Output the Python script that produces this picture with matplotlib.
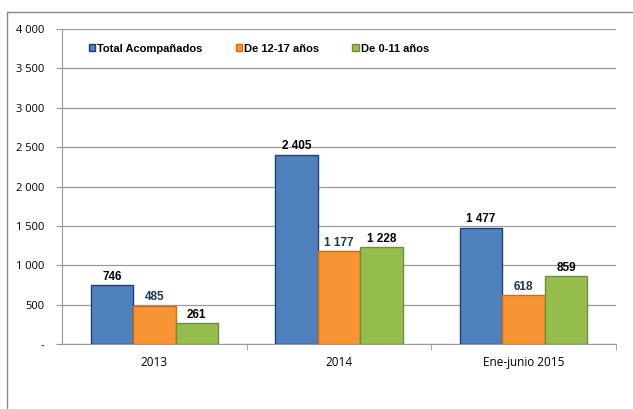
import matplotlib.pyplot as plt
import numpy as np
from matplotlib.patches import Rectangle
from matplotlib.ticker import FuncFormatter

categories = ["2013", "2014", "Ene-junio 2015"]
series_names = ["Total Acompañados", "De 12-17 años", "De 0-11 años"]
total = [746, 2405, 1477]
age_12_17 = [485, 1177, 618]
age_0_11 = [261, 1228, 859]

colors = ["#4F81BD", "#F79433", "#95BE4E"]
edges = ["#203F7A", "#D46A10", "#6E8F35"]
label_colors = ["black", "#1F3552", "black"]


def fmt(v, pos=None):
    if v == 0:
        return "-"
    return f"{int(v):,}".replace(",", " ")


fig = plt.figure(figsize=(6.33, 4.09), dpi=100)
ax = fig.add_axes([0.098, 0.159, 0.875, 0.77])

x = np.arange(len(categories))
w = 0.23
for i, (vals, name) in enumerate(zip([total, age_12_17, age_0_11], series_names)):
    pos = x + (i - 1) * w
    ax.bar(pos, vals, w, color=colors[i], edgecolor=edges[i], linewidth=1.0,
           label=name, zorder=3)
    for px, v in zip(pos, vals):
        ax.text(px, v + 30, fmt(v), ha="center", va="bottom", fontsize=8.5,
                fontweight="bold", color=label_colors[i], family="Liberation Sans",
                zorder=4)

ax.set_xlim(-0.5, 2.5)
ax.set_ylim(0, 4000)
ax.set_yticks(range(0, 4001, 500))
ax.yaxis.set_major_formatter(FuncFormatter(fmt))
ax.set_xticks(x)
ax.set_xticklabels(categories)
ax.set_xticks([0.5, 1.5, 2.5], minor=True)
ax.tick_params(axis="x", which="major", length=0, pad=9, labelsize=8.5)
ax.tick_params(axis="x", which="minor", length=4, color="#999999")
ax.tick_params(axis="y", length=4, color="#999999", labelsize=8, pad=9)
for lab in ax.get_xticklabels() + ax.get_yticklabels():
    lab.set_family("Open Sans")
ax.grid(axis="y", color="#999999", linewidth=0.9, zorder=0)
for s in ["top", "right"]:
    ax.spines[s].set_visible(False)
ax.spines["left"].set_color("#999999")
ax.spines["bottom"].set_color("#999999")

leg = ax.legend(loc="upper left", ncol=3, frameon=False,
                prop={"family": "Liberation Sans", "weight": "bold", "size": 8},
                handlelength=0.6, handleheight=0.6, handletextpad=0.15,
                columnspacing=3.0, bbox_to_anchor=(0.03, 0.985))

fig.patches.append(Rectangle((7 / 633, -0.1), 1.0, (409 - 12) / 409 + 0.1,
                             transform=fig.transFigure, fill=False,
                             edgecolor="#888888", linewidth=1.0))

fig.savefig("out.png", dpi=100)
